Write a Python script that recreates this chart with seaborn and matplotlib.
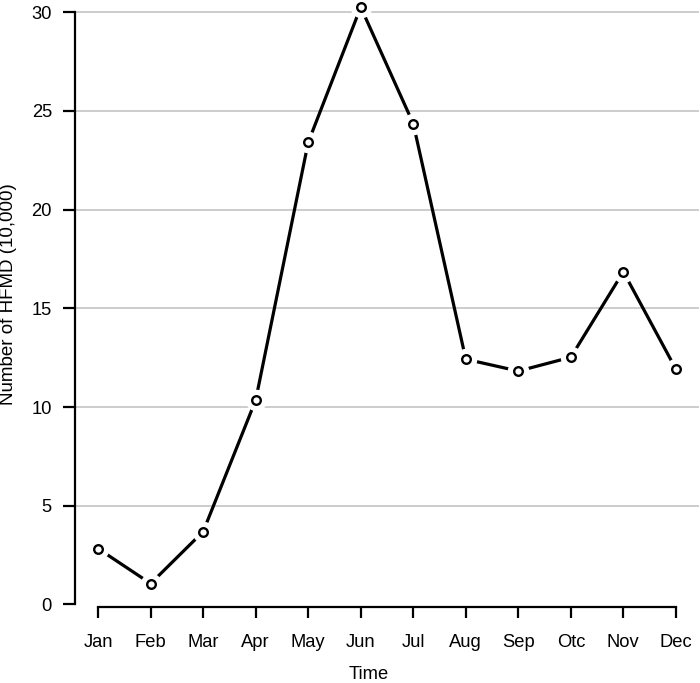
import numpy as np
import pandas as pd
import matplotlib
matplotlib.use("Agg")
import matplotlib.pyplot as plt
import seaborn as sns

# monthly HFMD cases (unit: 10,000)
months = ['Jan', 'Feb', 'Mar', 'Apr', 'May', 'Jun',
          'Jul', 'Aug', 'Sep', 'Otc', 'Nov', 'Dec']
cases = [2.83, 1.06, 3.69, 10.35, 23.4, 30.25,
         24.35, 12.42, 11.82, 12.52, 16.85, 11.92]
y_ticks = [0, 5, 10, 15, 20, 25, 30]

df = pd.DataFrame({'pos': np.arange(len(months)), 'cases': cases})

sns.set_style("white")
plt.rcParams['font.family'] = ['Liberation Sans', 'DejaVu Sans']
plt.rcParams['text.color'] = 'black'

W, H = 700, 683
fig = plt.figure(figsize=(W / 100, H / 100), dpi=100)
ax = fig.add_axes([75 / W, 1 - 607 / H, 624 / W, 607 / H])

# grid lines like R's abline(h=...)
for t in y_ticks[1:]:
    ax.axhline(t, color='#BEBEBE', lw=1.1, zorder=0)

# type="b" look: line, white halo, then open circles
sns.lineplot(data=df, x='pos', y='cases', color='black', lw=2.3,
             sort=False, ax=ax, zorder=2)
ax.plot(df['pos'], df['cases'], ls='none', marker='o', ms=14.5,
        mfc='white', mec='white', zorder=3, clip_on=False)
ax.plot(df['pos'], df['cases'], ls='none', marker='o', ms=6.2,
        mfc='white', mec='black', mew=1.7, zorder=4, clip_on=False)

ax.set_xlim(-0.44, 11.44)
ax.set_ylim(-0.127, 30.61)
ax.set_xticks(df['pos'])
ax.set_xticklabels(months)
ax.set_yticks(y_ticks)
ax.set_xlabel('')
ax.set_ylabel('')

for s in ['top', 'right']:
    ax.spines[s].set_visible(False)
ax.spines['left'].set_bounds(0, 30)
ax.spines['bottom'].set_bounds(0, 11)
for s in ['left', 'bottom']:
    ax.spines[s].set_color('black')
    ax.spines[s].set_linewidth(1.6)

ax.tick_params(axis='x', length=8.2, width=1.6, color='black',
               labelcolor='black', pad=11, labelsize=13.2,
               direction='out', bottom=True)
ax.tick_params(axis='y', length=8.6, width=1.6, color='black',
               labelcolor='black', pad=8, labelsize=13.2,
               direction='out', left=True)

fig.text(369 / W, 1 - 679 / H, 'Time', ha='center', va='baseline',
         fontsize=13.2)
fig.text(9 / W, 1 - 294 / H, 'Number of HFMD (10,000)', rotation=90,
         ha='center', va='center', fontsize=13.5)

fig.savefig('out.png', dpi=100, facecolor='white')
